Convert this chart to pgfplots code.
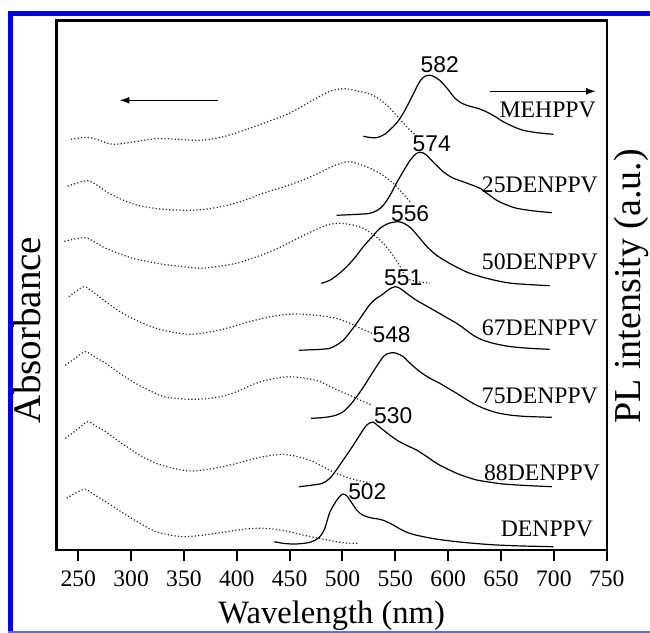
\documentclass[border=0pt]{standalone}
\usepackage{pgfplots}
\pgfplotsset{compat=1.18}
\usepackage{fontspec}
\setmainfont{Liberation Serif}
\newfontfamily\sansnum{Liberation Sans}
\usetikzlibrary{arrows.meta}

\definecolor{frameblue}{RGB}{0,0,255}
\definecolor{framelight}{RGB}{90,110,240}

\pgfplotsset{
  absline/.style={black!85, line width=0.6pt, dash pattern=on 0.6pt off 1.1pt, smooth},
  plline/.style={black, line width=0.6pt, smooth},
}
\newcommand\lblfont{\fontsize{11.85}{13}\selectfont}
\newcommand\numfont{\sansnum\fontsize{11.4}{13}\selectfont}

\begin{document}
\begin{tikzpicture}
\begin{axis}[
  at={(0,0)}, anchor=south west,
  scale only axis, width=275pt, height=264.8pt,
  xmin=229.6, xmax=750, ymin=0, ymax=529.6,
  xtick={250,300,...,750}, ytick=\empty,
  xtick pos=left, tick align=outside,
  major tick length=5.5pt,
  every tick/.style={black, line width=1pt},
  axis line style={line width=1.2pt},
  /pgf/number format/assume math mode=true,
  /pgf/number format/1000 sep={},
  tick label style={font=\fontsize{11.8}{13}\selectfont},
  xticklabel style={yshift=-1pt},
  xlabel={Wavelength (nm)},
  xlabel style={font=\fontsize{16.3}{18}\selectfont, at={(axis description cs:0.5,-0.1373)}, anchor=base},
  ylabel={Absorbance},
  ylabel style={font=\fontsize{19.5}{21}\selectfont, at={(axis description cs:-0.054,0.416)}, anchor=center},
  clip=false,
]
% MEHPPV
\addplot[absline] coordinates {(243,411) (259,413) (270,410) (282.5,406) (300,408) (323.5,411.6) (345,411) (364.5,410) (385,413) (405.6,419.6) (428,428) (449.7,437) (470,449) (488,459) (500,461.5) (507,461) (520,458) (529,455) (540,447) (548,438.6) (557,428) (565.5,418.6) (570,415)};
\addplot[plline] coordinates {(519.7,414) (526,412.8) (532,412.6) (540,416) (551,427) (558,438) (564,450) (573,468.6) (578,474) (582,475) (586,474) (592,470) (599,462) (606.5,452) (613,447) (620.6,444) (628,442) (636,438.6) (644,434) (652,428.6) (661,424) (671,420) (685,417.5) (699.5,416)};
% 25DENPPV
\addplot[absline] coordinates {(240,364) (248,367) (259,369.6) (268,365) (279,357) (293,350) (307.7,344.6) (330,341) (355,340) (370,341) (386.6,344) (405,349) (424.5,357) (443,363) (462,370) (477,377) (490.7,384) (500,387.5) (507,388.6) (516,386) (526,382) (537,376) (548,367) (556,358) (564,348.6)};
\addplot[plline] coordinates {(494.5,335) (505,335.5) (515,336) (526,337) (533,340) (538.6,345) (545,355) (551,367) (557,378) (564,390) (569,396) (572.7,398) (576,397.5) (579.7,395) (587,387) (595.4,378.6) (604,372.5) (614,368.6) (622,365.5) (630,362) (638,356) (646,350) (655,345.5) (665,342) (680,339.5) (698,337.6)};
% 50DENPPV
\addplot[absline] coordinates {(236.8,309) (245,311) (257,312.6) (266,308) (276,302) (288,297) (301.5,292) (315,289) (330,286) (347,284) (364.5,282) (383,284) (402,287.6) (420,294) (437,301) (453,309.5) (468.6,317.6) (480,323) (487.5,326) (497.6,327) (509,325.5) (519.7,322) (530,315) (538.6,307) (545,299) (551,290) (556,281) (560.7,272) (570,269) (582.8,267)};
\addplot[plline] coordinates {(480,267) (488,270) (496,276) (504,283.6) (512,293) (519.7,303.6) (528,313.5) (535.5,322) (544,327) (553,328.6) (559,326.5) (565,322) (572,313.5) (580,303.6) (589,295) (598.6,288.6) (610,282) (620.6,277) (633,273) (646,269.6) (660,267) (680,265.5) (696,264.6)};
% 67DENPPV
\addplot[absline] coordinates {(241,253.6) (248,259) (255.7,263.6) (265,257.6) (278,247) (292,237) (307,229) (323.5,222) (340,218) (355,216) (370,217.5) (386.6,221) (405,226.5) (424.5,232) (440,235) (456,236.3) (475,235) (493.9,232) (507,227) (518,221.5) (528,217)};
\addplot[plline] coordinates {(459,200) (470,200.5) (480,201) (488,202) (494,205) (500.7,210) (507,218) (513.4,227) (520,237) (526,246) (531,251) (538,256) (544,261) (550,263.6) (555,261.5) (562,256) (570,250) (580,244) (589,238.6) (598,233) (608,227) (616,221) (623.8,215) (632,210.5) (642.7,207) (654,204.5) (664.8,203) (680,201.8) (696,201)};
% 75DENPPV
\addplot[absline] coordinates {(237.7,185) (247,192) (256.6,198.6) (266,193) (276,187) (288,178) (301.5,168.6) (315,161) (330,154) (342,152) (355,151) (370,151.5) (386.6,154) (402,159.5) (418,167) (434,171.5) (449.7,173.6) (465,172) (478,169) (488,164) (497,159.5) (507,155) (517,150) (528,145)};
\addplot[plline] coordinates {(470,132) (479,132.5) (488,133.6) (495,135.5) (500.7,138.6) (507,145) (513.4,153.6) (520,163.5) (526,173.6) (532,183.5) (538.6,193.6) (542.5,196.5) (546.5,197.6) (551,197) (557.5,193.6) (565,186) (573.3,178.6) (582,172.5) (592,167) (600,162) (608,157) (617,151) (627,145) (636,141) (646,137.6) (658,135.3) (671,134) (685,133.4) (698,133)};
% 88DENPPV
\addplot[absline] coordinates {(237.7,112) (248,120) (259,128.6) (267,124) (276,118.6) (287,110) (298,102) (310,94) (323.5,87) (340,82) (355,79.3) (370,80.5) (386.6,83.6) (402,87.5) (418,92) (430,94.5) (443.4,96) (456,94) (468.6,90.3) (480,84.5) (490.7,78.6) (499,75) (507,72) (516,69.5) (526,67.6)};
\addplot[plline] coordinates {(459,63.6) (470,65) (481,67) (488,72) (494,80) (500.7,90.3) (507,100) (513.4,110.3) (518,118) (523,125.3) (528.6,128.3) (533,125) (538.6,120.3) (545,115) (551.3,110.3) (560,105.3) (570,100.3) (580,93.5) (589,87) (598,82) (608,77) (617,73.5) (627,70.3) (640,68) (652,66.3) (670,65) (685,64.2) (698,63.6)};
% DENPPV
\addplot[absline] coordinates {(239,52) (247,57) (256.6,61) (266,55) (276,48.6) (287,41) (298,33.6) (310,26) (323.5,18.6) (336,15.5) (348.8,13.6) (365,14.8) (380.3,17) (396,19.5) (411.8,21.6) (425,22) (437,21) (450,18.5) (462.3,15.3) (478,12) (493.9,8.6) (505,7.2) (515,7)};
\addplot[plline] coordinates {(435.5,8.6) (445,6.8) (456,6.3) (467,7.5) (473,9.5) (478,13) (483,21) (488,38) (494.5,50) (498,54.5) (500.7,56.3) (504,54.5) (507,50.3) (513.4,40.3) (518,36) (523,33.6) (529,32) (535.5,31) (541,29) (545,27) (551,23.5) (557.5,19.6) (566,16.2) (576.5,13.6) (590,11) (608,8.6) (626,6.8) (646,5.3) (670,4.3) (699.5,3.6)};

% peak positions
\node[font=\numfont] at (axis cs:592,486) {582};
\node[font=\numfont] at (axis cs:584.4,407) {574};
\node[font=\numfont] at (axis cs:564,337) {556};
\node[font=\numfont] at (axis cs:557.5,273) {551};
\node[font=\numfont] at (axis cs:546.5,215.3) {548};
\node[font=\numfont] at (axis cs:548,134.3) {530};
\node[font=\numfont] at (axis cs:523.5,58.6) {502};

% sample names
\node[anchor=base east, inner sep=0pt, font=\lblfont] at (axis cs:740,433) {MEHPPV};
\node[anchor=base east, inner sep=0pt, font=\lblfont] at (axis cs:742,357.6) {25DENPPV};
\node[anchor=base east, inner sep=0pt, font=\lblfont] at (axis cs:742,281) {50DENPPV};
\node[anchor=base east, inner sep=0pt, font=\lblfont] at (axis cs:742,215) {67DENPPV};
\node[anchor=base east, inner sep=0pt, font=\lblfont] at (axis cs:742,146.3) {75DENPPV};
\node[anchor=base east, inner sep=0pt, font=\lblfont] at (axis cs:744,69.6) {88DENPPV};
\node[anchor=base east, inner sep=0pt, font=\lblfont] at (axis cs:737.4,13.6) {DENPPV};

% arrows pointing to the axis each curve type belongs to
\draw[line width=0.75pt, -{Latex[length=5pt,width=3.4pt]}] (axis cs:381.9,450) -- (axis cs:288.8,450);
\draw[line width=0.75pt, -{Latex[length=5pt,width=3.4pt]}] (axis cs:640,459) -- (axis cs:740,459);

\node[rotate=90, inner sep=0pt, font=\fontsize{19}{21}\selectfont] at (axis description cs:1.045,0.4985) {PL intensity (a.u.)};
\end{axis}

% frame of the scanned page, coordinates in image pixels
\begin{scope}[x=0.5pt,y=-0.5pt,shift={(-28.35pt,275.15pt)}]
  \draw[frameblue,line width=2.4pt] (8,13.5) -- (650,13.5);
  \draw[frameblue,line width=2.4pt] (10.5,11.1) -- (10.5,633);
  \draw[framelight,line width=0.8pt] (8,632) -- (650,632);
  \pgfresetboundingbox
  \path[use as bounding box] (0,0) rectangle (650,633);
\end{scope}
\end{tikzpicture}
\end{document}
